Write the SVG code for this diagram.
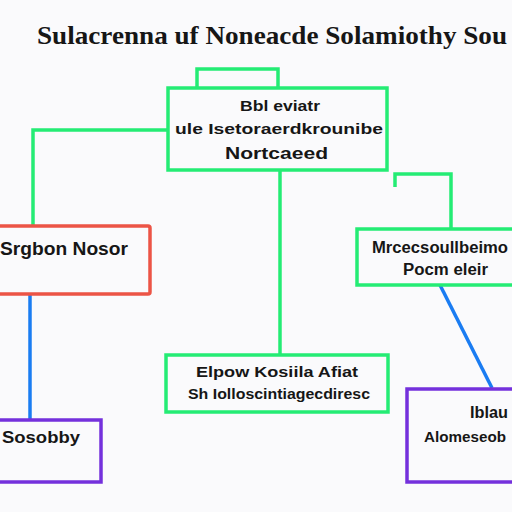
<svg xmlns="http://www.w3.org/2000/svg" width="512" height="512" viewBox="0 0 512 512">
<style>
.t{font-family:"Liberation Sans",Arial,sans-serif;font-weight:bold;fill:#161616}
.g{fill:none;stroke:#24ec74;stroke-width:3.5}
.r{fill:none;stroke:#ec5446;stroke-width:3.5}
.p{fill:none;stroke:#7430dc;stroke-width:3.5}
.c{fill:none;stroke-width:3.5;stroke-linejoin:miter}
</style>
<rect width="512" height="512" fill="#fafafc"/>
<text x="37" y="44" class="t" style="font-family:'Liberation Serif',serif;font-size:25px" textLength="470" lengthAdjust="spacingAndGlyphs">Sulacrenna uf Noneacde Solamiothy Sou</text>
<g id="connectors">
<polyline class="c" stroke="#24ec74" points="197,88 197,69 278,69 278,88"/>
<polyline class="c" stroke="#24ec74" points="168,130 33,130 33,225"/>
<line class="c" stroke="#24ec74" x1="280" y1="170" x2="280" y2="354"/>
<polyline class="c" stroke="#24ec74" points="395,187 395,174 451,174 451,228"/>
<line class="c" stroke="#1a7cf2" x1="30" y1="295" x2="30" y2="419"/>
<line class="c" stroke="#1a7cf2" x1="440" y1="285" x2="492" y2="388"/>
</g>
<g id="top">
<rect x="168" y="88" width="219" height="82" class="g"/>
<text x="240" y="111" class="t" font-size="15" textLength="80" lengthAdjust="spacingAndGlyphs">Bbl eviatr</text>
<text x="175" y="134" class="t" font-size="15" textLength="208" lengthAdjust="spacingAndGlyphs">ule Isetoraerdkrounibe</text>
<text x="225" y="159" class="t" font-size="17" textLength="103" lengthAdjust="spacingAndGlyphs">Nortcaeed</text>
</g>
<g id="left">
<rect x="-5" y="226" width="155" height="68" class="r" rx="2"/>
<text x="0" y="255" class="t" font-size="18" textLength="128" lengthAdjust="spacingAndGlyphs">Srgbon Nosor</text>
</g>
<g id="right">
<rect x="357" y="229" width="160" height="56" class="g"/>
<text x="372" y="253" class="t" font-size="16" textLength="136" lengthAdjust="spacingAndGlyphs">Mrcecsoullbeimo</text>
<text x="403" y="275" class="t" font-size="16" textLength="85" lengthAdjust="spacingAndGlyphs">Pocm eleir</text>
</g>
<g id="middle">
<rect x="166" y="355" width="222" height="57" class="g"/>
<text x="196" y="377" class="t" font-size="15" textLength="162" lengthAdjust="spacingAndGlyphs">Elpow Kosiila Afiat</text>
<text x="188" y="399" class="t" font-size="15" textLength="182" lengthAdjust="spacingAndGlyphs">Sh Iolloscintiagecdiresc</text>
</g>
<g id="bottomleft">
<rect x="-5" y="420" width="106" height="62" class="p"/>
<text x="2" y="443" class="t" font-size="17" textLength="78" lengthAdjust="spacingAndGlyphs">Sosobby</text>
</g>
<g id="bottomright">
<rect x="407" y="389" width="110" height="93" class="p"/>
<text x="470" y="418" class="t" font-size="16" textLength="38" lengthAdjust="spacingAndGlyphs">Iblau</text>
<text x="424" y="442" class="t" font-size="15" textLength="82" lengthAdjust="spacingAndGlyphs">Alomeseob</text>
</g>
</svg>
